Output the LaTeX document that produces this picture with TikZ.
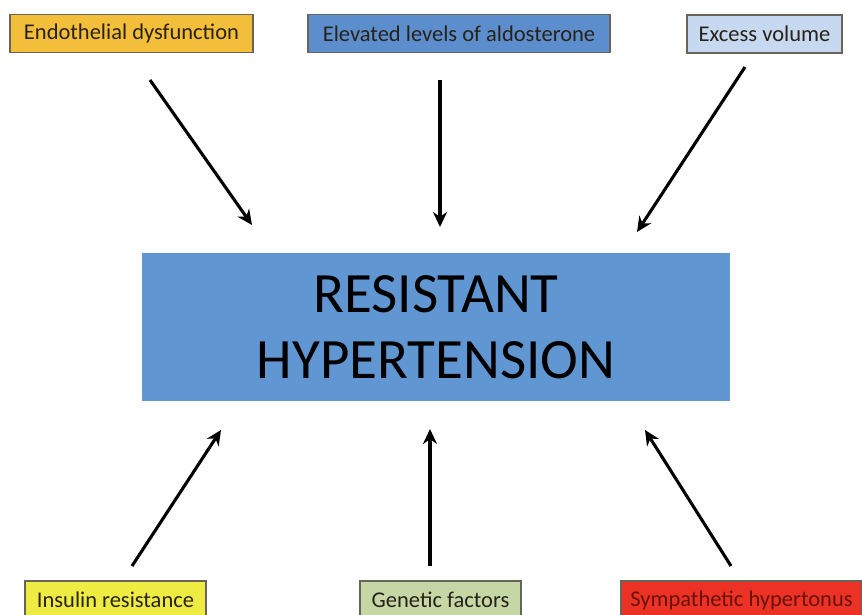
\documentclass[tikz,border=0pt]{standalone}
\usepackage{fontspec}
\setmainfont{Carlito}
\usetikzlibrary{arrows.meta}
\definecolor{endocol}{RGB}{243,190,57}
\definecolor{aldocol}{RGB}{92,142,206}
\definecolor{volcol}{RGB}{198,217,241}
\definecolor{maincol}{RGB}{96,150,210}
\definecolor{insucol}{RGB}{238,236,66}
\definecolor{genecol}{RGB}{196,215,165}
\definecolor{sympcol}{RGB}{236,50,36}
\definecolor{darktext}{RGB}{40,34,24}
\definecolor{sympdark}{RGB}{105,18,12}
\definecolor{edgecol}{RGB}{105,100,90}

\begin{document}
\begin{tikzpicture}[x=1pt,y=-1pt]
	\tikzstyle{factor}=[rectangle,draw=edgecol,line width=1.2pt,text=darktext,inner sep=0pt,minimum height=38pt,font=\fontsize{22.5}{26}\selectfont]
	\tikzstyle{cause}=[line width=3.1pt,-{Stealth[length=15pt,width=14pt]}]
	\path[use as bounding box,clip] (0,0) rectangle (862,615);
	\fill[white] (0,0) rectangle (862,615);
	% the central box
	\node[rectangle,fill=maincol,minimum width=588pt,minimum height=148pt,align=center,inner sep=0pt,
		font=\fontsize{57}{66}\selectfont](rh) at (436,327) {RESISTANT\\HYPERTENSION};
	% top row
	\node[factor,fill=endocol,minimum width=243pt](endo) at (131.5,33.5) {Endothelial dysfunction};
	\node[factor,fill=aldocol,minimum width=302pt](aldo) at (459,33.5) {Elevated levels of aldosterone};
	\node[factor,fill=volcol,minimum width=155pt](vol) at (764.5,34) {Excess volume};
	% bottom row
	\node[factor,fill=insucol,minimum width=181pt](insu) at (115.5,600) {Insulin resistance};
	\node[factor,fill=genecol,minimum width=161pt](gene) at (440.5,600) {Genetic factors};
	\node[factor,fill=sympcol,text=sympdark,minimum width=241pt](symp) at (741.5,600) {Sympathetic hypertonus};
	% arrow ends
	\coordinate (endoS) at (150,80);
	\coordinate (endoE) at (252,225);
	\coordinate (aldoS) at (440,80);
	\coordinate (aldoE) at (440,227);
	\coordinate (volS) at (745,67);
	\coordinate (volE) at (637,232);
	\coordinate (insuS) at (132,566);
	\coordinate (insuE) at (221,430);
	\coordinate (geneS) at (430,566);
	\coordinate (geneE) at (430,429);
	\coordinate (sympS) at (731,566);
	\coordinate (sympE) at (645,430);
	\draw[cause] (endoS) -- (endoE);
	\draw[cause] (aldoS) -- (aldoE);
	\draw[cause] (volS) -- (volE);
	\draw[cause] (insuS) -- (insuE);
	\draw[cause] (geneS) -- (geneE);
	\draw[cause] (sympS) -- (sympE);
\end{tikzpicture}
\end{document}
